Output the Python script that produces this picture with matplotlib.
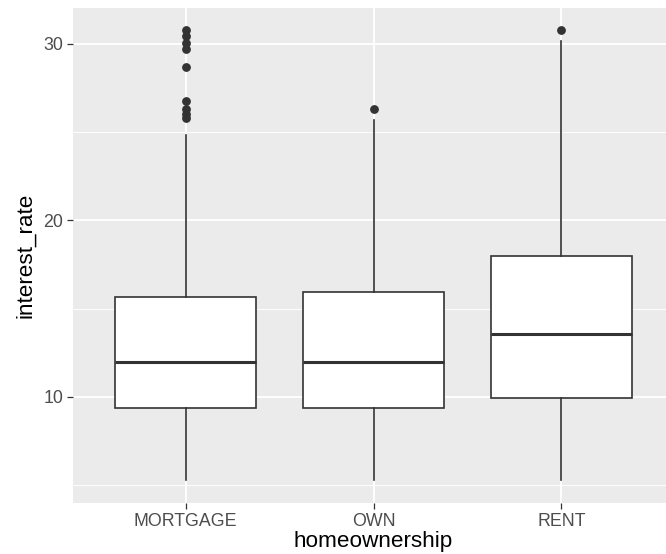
import matplotlib
matplotlib.use("Agg")
import matplotlib.pyplot as plt
from matplotlib.ticker import FixedLocator

categories = ["MORTGAGE", "OWN", "RENT"]
whisker_low = [5.31, 5.31, 5.31]
q1 = [9.38, 9.38, 9.95]
median = [11.98, 11.98, 13.57]
q3 = [15.67, 15.97, 17.99]
whisker_high = [24.85, 25.69, 30.17]
outliers = [
    [30.79, 30.45, 30.06, 29.69, 28.72, 26.77, 26.30, 26.06, 25.82],
    [26.30],
    [30.79],
]
y_ticks = [10, 20, 30]
y_minor = [5, 15, 25]

W, H = 666, 554
fig = plt.figure(figsize=(W / 100, H / 100), dpi=100)
fig.patch.set_facecolor("white")
left, right, top, bottom = 73, 674, 8, 503
ax = fig.add_axes([left / W, 1 - bottom / H, (right - left) / W, (bottom - top) / H])
ax.set_facecolor("#EBEBEB")
for s in ax.spines.values():
    s.set_visible(False)

stats = []
for i, c in enumerate(categories):
    stats.append(dict(label=c, whislo=whisker_low[i], q1=q1[i], med=median[i],
                      q3=q3[i], whishi=whisker_high[i], fliers=outliers[i]))

edge = "#333333"
ax.bxp(stats, positions=[1, 2, 3], widths=0.75, patch_artist=True, showcaps=False,
       boxprops=dict(facecolor="white", edgecolor=edge, linewidth=1.2),
       whiskerprops=dict(color=edge, linewidth=1.2),
       medianprops=dict(color=edge, linewidth=2.2, solid_capstyle="butt"),
       flierprops=dict(marker="o", markerfacecolor=edge, markeredgecolor=edge,
                       markersize=5.3, linestyle="none"),
       zorder=3)

ax.set_xlim(0.4, 3.6)
ax.set_ylim(3.99, 32.04)
ax.yaxis.set_major_locator(FixedLocator(y_ticks))
ax.yaxis.set_minor_locator(FixedLocator(y_minor))
ax.set_xticks([1, 2, 3])
ax.set_xticklabels(categories)
ax.set_yticklabels([str(t) for t in y_ticks])

ax.grid(which="major", color="white", linewidth=1.3, zorder=0)
ax.grid(which="minor", axis="y", color="white", linewidth=0.65, zorder=0)
ax.set_axisbelow(True)

ax.tick_params(axis="both", which="major", length=4, width=0.9, color=edge,
               labelcolor="#4D4D4D", labelsize=12.8, pad=3)
ax.tick_params(which="minor", length=0)
for lab in ax.get_xticklabels() + ax.get_yticklabels():
    lab.set_family("Liberation Sans")

ax.set_xlabel("homeownership", family="Liberation Sans", fontsize=16.2, color="black", labelpad=1)
ax.set_ylabel("interest_rate", family="Liberation Sans", fontsize=16.2, color="black", labelpad=5)

fig.savefig("out.png", dpi=100)
